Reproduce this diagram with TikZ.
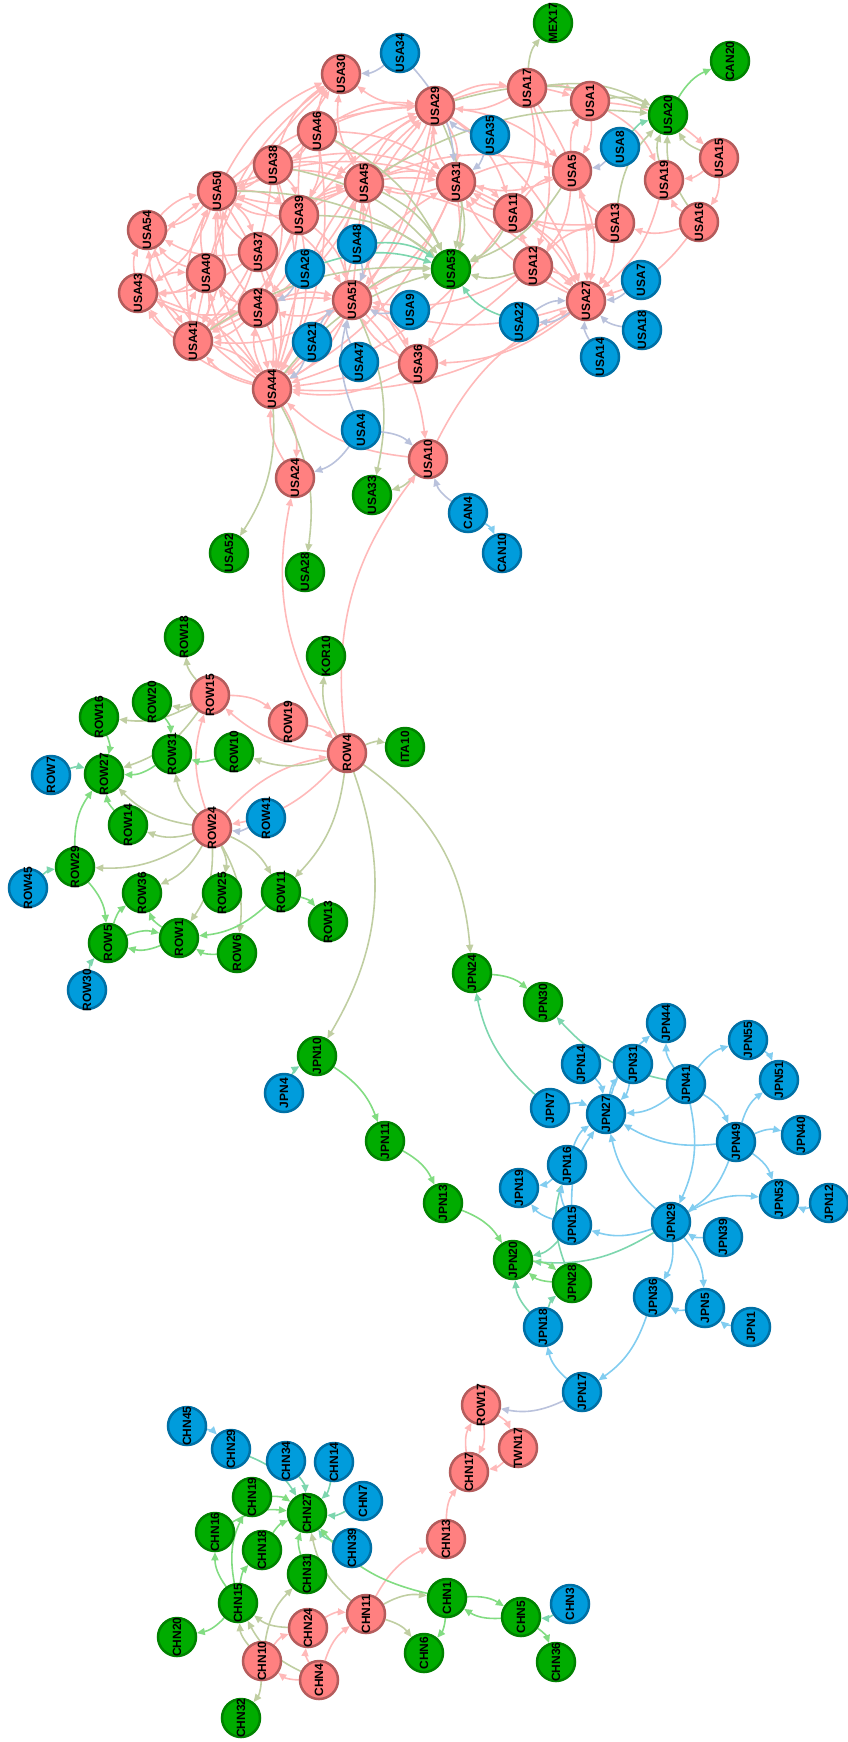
\documentclass[tikz,border=0pt]{standalone}
\usepackage{fontspec}
\setmainfont{Liberation Sans}
\usetikzlibrary{arrows.meta,backgrounds}

\definecolor{fpk}{RGB}{255,128,128}
\definecolor{dpk}{RGB}{180,92,92}
\definecolor{fbl}{RGB}{0,156,220}
\definecolor{dbl}{RGB}{0,112,165}
\definecolor{fgr}{RGB}{0,172,0}
\definecolor{dgr}{RGB}{0,130,0}
\definecolor{cpk}{RGB}{255,185,185}
\definecolor{col}{RGB}{192,206,162}
\definecolor{cgr}{RGB}{130,220,130}
\definecolor{cgy}{RGB}{186,194,220}
\definecolor{ctl}{RGB}{125,214,174}
\definecolor{cbl}{RGB}{130,205,240}

\newcommand{\vlab}[1]{\rotatebox{90}{\makebox[0pt]{#1}}}

\tikzset{
  nbase/.style={circle, minimum size=38pt, inner sep=0pt, line width=2.5pt,
    font=\fontsize{12}{12}\selectfont\bfseries},
  npk/.style={nbase, fill=fpk, draw=dpk},
  nbl/.style={nbase, fill=fbl, draw=dbl},
  ngr/.style={nbase, fill=fgr, draw=dgr},
  link/.style={line width=1.6pt, -{Triangle[length=8pt,width=7pt]}, bend left=18},
  epk/.style={link, draw=cpk},
  eol/.style={link, draw=col},
  egr/.style={link, draw=cgr},
  egy/.style={link, draw=cgy},
  etl/.style={link, draw=ctl},
  ebl/.style={link, draw=cbl}
}

\begin{document}
\begin{tikzpicture}[x=1pt,y=-1pt]
\useasboundingbox (0,0) rectangle (848,1742);

% Knoten
\foreach \n/\x/\y in {USA30/341/74, USA29/435/106, USA46/317/131, USA38/273/165, USA45/364/183,
  USA31/456/182, USA50/217/191, USA39/299/215, USA54/147/230, USA37/258/252, USA40/206/273,
  USA43/138/293, USA42/258/308, USA51/352/300, USA41/193/341, USA36/418/364, USA44/272/389,
  USA10/428/459, USA24/295/478, USA17/527/88, USA1/590/101, USA15/719/158, USA5/572/171,
  USA19/664/180, USA11/513/213, USA13/615/223, USA16/699/222, USA12/533/266, USA27/586/301,
  ROW15/210/695, ROW19/288/722, ROW4/347/753, ROW24/212/828,
  ROW17/481/1405, TWN17/518/1448, CHN17/469/1472, CHN13/446/1539, CHN11/366/1614,
  CHN24/308/1628, CHN10/262/1661, CHN4/319/1680}
  \node[npk] (\n) at (\x,\y) {\vlab{\n}};

\foreach \n/\x/\y in {USA34/400/53, USA35/490/135, USA48/357/244, USA26/305/269, USA9/410/310,
  USA21/312/342, USA47/359/362, USA4/361/430, CAN4/468/513, CAN10/502/553, USA8/620/147,
  USA7/641/280, USA22/519/322, USA18/642/330, USA14/600/357,
  ROW7/51/775, ROW41/266/818, ROW45/28/888, ROW30/87/990,
  JPN44/666/1023, JPN55/748/1040, JPN14/581/1064, JPN31/633/1064, JPN41/686/1084,
  JPN51/779/1080, JPN4/284/1093, JPN7/550/1108, JPN27/606/1114, JPN49/736/1142,
  JPN40/801/1135, JPN16/567/1165, JPN19/519/1188, JPN53/779/1199, JPN12/829/1203,
  JPN15/572/1225, JPN29/671/1222, JPN39/723/1237, JPN36/653/1297, JPN5/705/1308,
  JPN1/751/1327, JPN18/543/1327, JPN17/582/1392,
  CHN45/187/1426, CHN29/231/1449, CHN34/286/1461, CHN14/334/1462, CHN7/363/1501,
  CHN39/352/1548, CHN3/570/1604}
  \node[nbl] (\n) at (\x,\y) {\vlab{\n}};

\foreach \n/\x/\y in {USA53/451/269, USA33/372/495, USA52/229/553, USA28/305/572,
  MEX17/553/23, CAN20/730/61, USA20/668/115,
  ROW18/184/637, KOR10/326/656, ROW20/152/702, ROW16/99/717, ITA10/405/747, ROW31/172/754,
  ROW10/234/752, ROW27/104/774, ROW14/128/825, ROW29/75/867, ROW36/142/893, ROW25/222/893,
  ROW11/281/892, ROW13/328/922, ROW5/108/943, ROW1/179/938, ROW6/237/953,
  JPN24/472/973, JPN30/543/1002, JPN10/317/1056, JPN11/385/1141, JPN13/443/1203,
  JPN20/513/1260, JPN28/572/1283,
  CHN19/252/1497, CHN27/307/1513, CHN16/215/1532, CHN18/262/1550, CHN31/307/1574,
  CHN1/447/1598, CHN15/238/1603, CHN5/521/1617, CHN20/177/1637, CHN6/424/1653,
  CHN36/556/1662, CHN32/241/1718}
  \node[ngr] (\n) at (\x,\y) {\vlab{\n}};

% Kanten
\begin{scope}[on background layer]
\foreach \a/\b in {USA50/USA30, USA38/USA30, USA46/USA30, USA39/USA30, USA45/USA30, USA41/USA30,
  USA29/USA30, USA40/USA30, USA50/USA29, USA46/USA29, USA38/USA29, USA45/USA29, USA39/USA29,
  USA44/USA29, USA42/USA29, USA31/USA29, USA17/USA29, USA29/USA17, USA29/USA1, USA29/USA5,
  USA29/USA11, USA29/USA31, USA29/USA27, USA29/USA45, USA29/USA51, USA29/USA44,
  USA17/USA1, USA17/USA27, USA17/USA11, USA17/USA12, USA1/USA5, USA1/USA19, USA1/USA15,
  USA5/USA1, USA5/USA27, USA5/USA31, USA5/USA12, USA13/USA5, USA13/USA27, USA13/USA11,
  USA13/USA31, USA16/USA13, USA16/USA19, USA16/USA27, USA15/USA16, USA15/USA19, USA19/USA27,
  USA11/USA27, USA11/USA5, USA11/USA31, USA11/USA44, USA12/USA27, USA12/USA13, USA12/USA51,
  USA12/USA44, USA31/USA27, USA31/USA11, USA31/USA5, USA31/USA51, USA31/USA44, USA31/USA45,
  USA31/USA36, USA45/USA31, USA45/USA51, USA45/USA44, USA45/USA42, USA45/USA50, USA45/USA41,
  USA45/USA27, USA45/USA5, USA46/USA45, USA46/USA31, USA46/USA50, USA46/USA44, USA46/USA39,
  USA46/USA38, USA38/USA45, USA38/USA39, USA38/USA50, USA38/USA42, USA38/USA44, USA38/USA41,
  USA38/USA31, USA50/USA54, USA50/USA43, USA50/USA41, USA50/USA44, USA50/USA45, USA50/USA39,
  USA50/USA37, USA50/USA31, USA50/USA51, USA39/USA50, USA39/USA44, USA39/USA51, USA39/USA41,
  USA39/USA42, USA39/USA45, USA39/USA31, USA54/USA50, USA43/USA54, USA41/USA54, USA40/USA54,
  USA44/USA54, USA37/USA50, USA37/USA44, USA37/USA41, USA37/USA43, USA37/USA54, USA37/USA45,
  USA40/USA50, USA40/USA43, USA40/USA44, USA40/USA41, USA43/USA50, USA43/USA41, USA43/USA44,
  USA43/USA40, USA42/USA43, USA42/USA44, USA42/USA41, USA42/USA50, USA42/USA40, USA42/USA51,
  USA41/USA43, USA41/USA50, USA41/USA44, USA41/USA42, USA41/USA40, USA41/USA51, USA51/USA44,
  USA51/USA41, USA51/USA42, USA51/USA45, USA51/USA31, USA51/USA29, USA51/USA36, USA51/USA10,
  USA44/USA41, USA44/USA43, USA44/USA42, USA44/USA24, USA44/USA51, USA44/USA50, USA44/USA40,
  USA36/USA51, USA36/USA44, USA36/USA45, USA27/USA44, USA27/USA51, USA27/USA36, USA27/USA31,
  USA27/USA11, USA24/USA44, USA10/USA27, USA10/USA44,
  ROW15/ROW19, ROW19/ROW4, ROW4/ROW15, ROW24/ROW15, ROW24/ROW4, ROW4/ROW24,
  ROW17/TWN17, TWN17/CHN17, CHN17/ROW17, ROW17/CHN17, CHN13/CHN17, CHN11/CHN13,
  CHN24/CHN11, CHN4/CHN11, CHN4/CHN24, CHN4/CHN10, CHN10/CHN24}
  \draw[epk] (\a) to (\b);
\foreach \a/\b in {USA17/MEX17, USA17/USA20, USA29/USA20, USA45/USA20, USA1/USA20, USA19/USA20,
  USA16/USA20, USA15/USA20, USA13/USA20, USA45/USA53, USA29/USA53, USA31/USA53, USA46/USA53,
  USA50/USA53, USA39/USA53, USA38/USA53, USA51/USA53, USA11/USA53, USA5/USA53, USA12/USA53,
  USA44/USA53, USA41/USA53, USA44/USA52, USA44/USA28, USA51/USA33, USA10/USA33,
  ROW15/ROW18, ROW15/ROW20, ROW15/ROW16, ROW15/ROW27, ROW4/ROW10, ROW4/KOR10, ROW4/ITA10,
  ROW4/ROW11, ROW24/ROW31, ROW24/ROW27, ROW24/ROW14, ROW24/ROW29, ROW24/ROW36, ROW24/ROW25,
  ROW24/ROW1, ROW24/ROW6, ROW24/ROW11,
  CHN11/CHN1, CHN11/CHN6, CHN11/CHN27, CHN4/CHN15, CHN24/CHN15, CHN10/CHN15, CHN10/CHN31,
  CHN10/CHN32}
  \draw[eol] (\a) to (\b);
\foreach \a/\b in {USA34/USA30, USA34/USA31, USA35/USA29, USA35/USA31, USA8/USA5, USA7/USA27,
  USA18/USA27, USA14/USA27, USA22/USA27, USA27/USA22, USA9/USA51, USA48/USA51, USA47/USA51,
  USA21/USA51, USA4/USA51, USA4/USA24, USA4/USA10, CAN4/USA10, USA26/USA42, USA21/USA44,
  ROW41/ROW24, JPN17/ROW17}
  \draw[egy] (\a) to (\b);
\foreach \a/\b in {USA22/USA53, USA8/USA20, USA48/USA53, USA26/USA53,
  ROW7/ROW27, ROW45/ROW29, ROW30/ROW5,
  JPN7/JPN24, JPN41/JPN30, JPN4/JPN10, JPN15/JPN20, JPN29/JPN20, JPN18/JPN20, JPN18/JPN28,
  JPN28/JPN16, CHN3/CHN5, CHN34/CHN27, CHN29/CHN27, CHN14/CHN27, CHN7/CHN27, CHN39/CHN27}
  \draw[etl] (\a) to (\b);
\foreach \a/\b in {USA20/CAN20, ROW20/ROW31, ROW16/ROW27, ROW10/ROW31, ROW31/ROW27, ROW14/ROW27,
  ROW29/ROW27, ROW29/ROW5, ROW5/ROW36, ROW5/ROW1, ROW1/ROW5, ROW1/ROW36, ROW6/ROW1, ROW11/ROW1,
  ROW11/ROW13, JPN24/JPN30, JPN10/JPN11, JPN11/JPN13, JPN13/JPN20, JPN20/JPN28, JPN28/JPN20,
  CHN1/CHN27, CHN1/CHN5, CHN5/CHN1, CHN1/CHN6, CHN5/CHN36, CHN15/CHN16, CHN15/CHN18,
  CHN15/CHN20, CHN15/CHN19, CHN19/CHN27, CHN16/CHN27, CHN18/CHN27, CHN31/CHN27}
  \draw[egr] (\a) to (\b);
\foreach \a/\b in {CAN4/CAN10, CHN45/CHN29, JPN14/JPN27, JPN7/JPN27, JPN31/JPN27, JPN27/JPN44,
  JPN41/JPN44, JPN41/JPN55, JPN41/JPN27, JPN41/JPN49, JPN41/JPN29, JPN29/JPN27, JPN49/JPN27,
  JPN49/JPN51, JPN49/JPN40, JPN49/JPN53, JPN49/JPN29, JPN29/JPN53, JPN12/JPN53, JPN55/JPN51,
  JPN39/JPN29, JPN29/JPN15, JPN29/JPN36, JPN29/JPN5, JPN15/JPN16, JPN16/JPN27, JPN15/JPN27,
  JPN16/JPN19, JPN15/JPN19, JPN5/JPN36, JPN1/JPN5, JPN36/JPN17, JPN17/JPN18, JPN27/JPN31}
  \draw[ebl] (\a) to (\b);
\draw[epk, bend left=22] (ROW4) to (USA24);
\draw[epk, bend left=22] (ROW4) to (USA10);
\draw[eol, bend left=25] (ROW4) to (JPN10);
\draw[eol, bend left=25] (ROW4) to (JPN24);
\end{scope}
\end{tikzpicture}
\end{document}
